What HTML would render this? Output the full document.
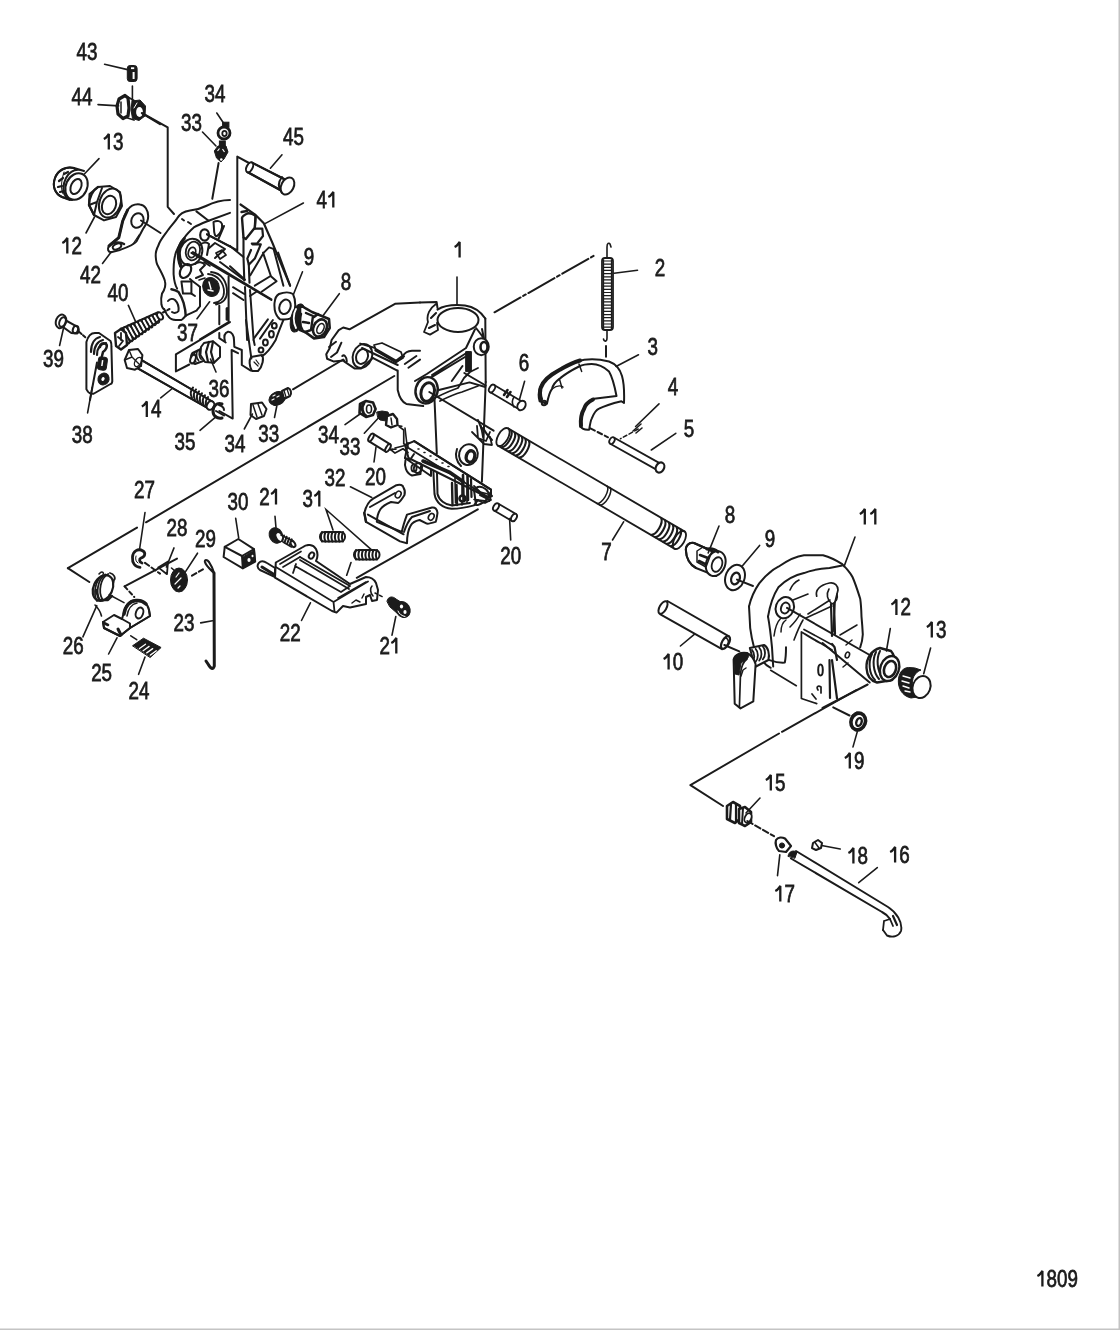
<!DOCTYPE html>
<html><head><meta charset="utf-8"><style>
html,body{margin:0;padding:0;background:#fff;}
body{width:1120px;height:1330px;overflow:hidden;position:relative;}
svg{position:absolute;left:0;top:0;}
.s{fill:none;stroke:#1b1b1b;stroke-width:2;stroke-linecap:round;stroke-linejoin:round}
.t{fill:none;stroke:#1b1b1b;stroke-width:1.6;stroke-linecap:round}
.s .w, .w{fill:#fff}
.one path{fill:none;stroke:#1b1b1b;stroke-width:2.3;stroke-linejoin:bevel}
.k{fill:#1b1b1b;stroke:#1b1b1b;stroke-width:1}
.lb text{font-family:"Liberation Sans",sans-serif;font-weight:normal;font-size:23.5px;fill:#1b1b1b;stroke:#1b1b1b;stroke-width:0.75;text-anchor:middle}
</style></head><body>
<svg width="1120" height="1330" viewBox="0 0 1120 1330">
<rect x="1118.5" y="0" width="1.5" height="1330" fill="#c4c4c4"/>
<rect x="0" y="1328.5" width="1120" height="1.5" fill="#c4c4c4"/>
<defs><filter id="gs" x="0" y="0" width="1120" height="1330" filterUnits="userSpaceOnUse"><feColorMatrix type="saturate" values="0"/></filter></defs>
<g class="lb" filter="url(#gs)">
<text transform="translate(87,59.6) scale(0.8,1)">43</text>
<text transform="translate(82,104.6) scale(0.8,1)">44</text>
<text transform="translate(215,101.6) scale(0.8,1)">34</text>
<text transform="translate(191.5,130.6) scale(0.8,1)">33</text>
<text transform="translate(293.5,144.6) scale(0.8,1)">45</text>
<text transform="translate(113,149.6) scale(0.8,1)"><tspan style="fill:none;stroke:none">1</tspan>3</text>
<text transform="translate(327,207.6) scale(0.8,1)">4<tspan style="fill:none;stroke:none">1</tspan></text>
<text transform="translate(71.5,253.6) scale(0.8,1)"><tspan style="fill:none;stroke:none">1</tspan>2</text>
<text transform="translate(90.5,282.6) scale(0.8,1)">42</text>
<text transform="translate(309,264.6) scale(0.8,1)">9</text>
<text transform="translate(346,289.6) scale(0.8,1)">8</text>
<text transform="translate(118,300.6) scale(0.8,1)">40</text>
<text transform="translate(458.5,257.6) scale(0.8,1)"><tspan style="fill:none;stroke:none">1</tspan></text>
<text transform="translate(660,275.6) scale(0.8,1)">2</text>
<text transform="translate(53.5,366.6) scale(0.8,1)">39</text>
<text transform="translate(187.5,340.6) scale(0.8,1)">37</text>
<text transform="translate(219,397.1) scale(0.8,1)">36</text>
<text transform="translate(652.7,354.6) scale(0.8,1)">3</text>
<text transform="translate(524,370.6) scale(0.8,1)">6</text>
<text transform="translate(673,394.6) scale(0.8,1)">4</text>
<text transform="translate(82.3,442.6) scale(0.8,1)">38</text>
<text transform="translate(151,417.1) scale(0.8,1)"><tspan style="fill:none;stroke:none">1</tspan>4</text>
<text transform="translate(185,449.6) scale(0.8,1)">35</text>
<text transform="translate(235,452.1) scale(0.8,1)">34</text>
<text transform="translate(268.7,441.6) scale(0.8,1)">33</text>
<text transform="translate(689,436.6) scale(0.8,1)">5</text>
<text transform="translate(328.4,442.6) scale(0.8,1)">34</text>
<text transform="translate(350,454.6) scale(0.8,1)">33</text>
<text transform="translate(375.5,484.6) scale(0.8,1)">20</text>
<text transform="translate(144.5,498.1) scale(0.8,1)">27</text>
<text transform="translate(335,485.6) scale(0.8,1)">32</text>
<text transform="translate(869,524.6) scale(0.8,1)"><tspan style="fill:none;stroke:none">1</tspan><tspan style="fill:none;stroke:none">1</tspan></text>
<text transform="translate(730,522.6) scale(0.8,1)">8</text>
<text transform="translate(770,546.6) scale(0.8,1)">9</text>
<text transform="translate(238,510.1) scale(0.8,1)">30</text>
<text transform="translate(269.7,504.6) scale(0.8,1)">2<tspan style="fill:none;stroke:none">1</tspan></text>
<text transform="translate(313,506.6) scale(0.8,1)">3<tspan style="fill:none;stroke:none">1</tspan></text>
<text transform="translate(177,535.6) scale(0.8,1)">28</text>
<text transform="translate(205.5,546.6) scale(0.8,1)">29</text>
<text transform="translate(606.5,560.1) scale(0.8,1)">7</text>
<text transform="translate(510.7,564.2) scale(0.8,1)">20</text>
<text transform="translate(900.6,615.1) scale(0.8,1)"><tspan style="fill:none;stroke:none">1</tspan>2</text>
<text transform="translate(936,637.6) scale(0.8,1)"><tspan style="fill:none;stroke:none">1</tspan>3</text>
<text transform="translate(184,630.6) scale(0.8,1)">23</text>
<text transform="translate(290.3,641.1) scale(0.8,1)">22</text>
<text transform="translate(73.2,653.6) scale(0.8,1)">26</text>
<text transform="translate(390,653.6) scale(0.8,1)">2<tspan style="fill:none;stroke:none">1</tspan></text>
<text transform="translate(672.8,669.6) scale(0.8,1)"><tspan style="fill:none;stroke:none">1</tspan>0</text>
<text transform="translate(101.6,680.6) scale(0.8,1)">25</text>
<text transform="translate(139,698.6) scale(0.8,1)">24</text>
<text transform="translate(854,768.6) scale(0.8,1)"><tspan style="fill:none;stroke:none">1</tspan>9</text>
<text transform="translate(775,790.6) scale(0.8,1)"><tspan style="fill:none;stroke:none">1</tspan>5</text>
<text transform="translate(899.3,862.6) scale(0.8,1)"><tspan style="fill:none;stroke:none">1</tspan>6</text>
<text transform="translate(857.6,863.6) scale(0.8,1)"><tspan style="fill:none;stroke:none">1</tspan>8</text>
<text transform="translate(784.5,901.6) scale(0.8,1)"><tspan style="fill:none;stroke:none">1</tspan>7</text>
<text transform="translate(1057,1286.6) scale(0.8,1)"><tspan style="fill:none;stroke:none">1</tspan>809</text>
</g><g class="one"><path d="M108.8,149.6 L108.8,134.0 L107.6,135.6 C106.6,137.2 105.2,138.4 103.8,139.0 M333.3,207.6 L333.3,192.0 L332.1,193.6 C331.1,195.2 329.7,196.4 328.3,197.0 M67.3,253.6 L67.3,238.0 L66.1,239.6 C65.1,241.2 63.7,242.4 62.3,243.0 M459.6,257.6 L459.6,242.0 L458.4,243.6 C457.4,245.2 456.0,246.4 454.6,247.0 M146.8,417.1 L146.8,401.5 L145.6,403.1 C144.6,404.7 143.2,405.9 141.8,406.5 M864.8,524.6 L864.8,509.0 L863.6,510.6 C862.6,512.2 861.2,513.4 859.8,514.0 M875.3,524.6 L875.3,509.0 L874.1,510.6 C873.1,512.2 871.7,513.4 870.3,514.0 M276.0,504.6 L276.0,489.0 L274.8,490.6 C273.8,492.2 272.4,493.4 271.0,494.0 M319.3,506.6 L319.3,491.0 L318.1,492.6 C317.1,494.2 315.7,495.4 314.3,496.0 M896.4,615.1 L896.4,599.5 L895.2,601.1 C894.2,602.7 892.8,603.9 891.4,604.5 M931.8,637.6 L931.8,622.0 L930.6,623.6 C929.6,625.2 928.2,626.4 926.8,627.0 M396.3,653.6 L396.3,638.0 L395.1,639.6 C394.1,641.2 392.7,642.4 391.3,643.0 M668.6,669.6 L668.6,654.0 L667.4,655.6 C666.4,657.2 665.0,658.4 663.6,659.0 M849.8,768.6 L849.8,753.0 L848.6,754.6 C847.6,756.2 846.2,757.4 844.8,758.0 M770.8,790.6 L770.8,775.0 L769.6,776.6 C768.6,778.2 767.2,779.4 765.8,780.0 M895.1,862.6 L895.1,847.0 L893.9,848.6 C892.9,850.2 891.5,851.4 890.1,852.0 M853.4,863.6 L853.4,848.0 L852.2,849.6 C851.2,851.2 849.8,852.4 848.4,853.0 M780.3,901.6 L780.3,886.0 L779.1,887.6 C778.1,889.2 776.7,890.4 775.3,891.0 M1042.4,1286.6 L1042.4,1271.0 L1041.2,1272.6 C1040.2,1274.2 1038.8,1275.4 1037.4,1276.0"/>

</g>
<!-- 43 -->
<g>
<rect x="127.3" y="65.5" width="9.8" height="16" rx="2.8" class="k"/>
<rect x="131" y="67.3" width="3.2" height="1.8" fill="#fff"/>
<rect x="132.6" y="72" width="2" height="7" fill="#fff"/>

</g>
<!-- 44 -->
<g>
<path fill="#fff" d="M124,96 L134,100.5 L134,120 L125,117 Z"/>
<path class="s" d="M126,96 L134,100.5 M126,117.5 L134,120" style="stroke-width:1.8"/>
<path class="s" d="M125,95.5 L119,99 L117,106 L118,114 L123,118.5 L128,116 L129,108 L128,98 Z" style="stroke-width:3.2;fill:#fff"/>
<path class="s" d="M121,102 L121,113" style="stroke-width:1.5"/>
<path class="k" d="M132,101 L140,100 L145.5,106 L145,116 L139,120.5 L132.5,118.5 L131,110 Z"/>
<ellipse cx="139.5" cy="112" rx="3.4" ry="5" fill="#fff"/>
<path class="s" d="M134,108 L137,103" style="stroke:#fff;stroke-width:1"/>
<path class="s" d="M132.4,86 L132.4,101" style="stroke-width:1.6"/>
<path class="s" d="M142.6,113.7 L160,124.2"/>
</g>
<!-- 34a -->
<g>
<rect x="222.6" y="122.2" width="6.3" height="5" class="k"/>
<ellipse cx="224" cy="133" rx="6" ry="6" class="s" style="stroke-width:2.8;fill:#fff"/>
<ellipse cx="224.5" cy="133.5" rx="2.2" ry="2.6" class="s" style="stroke-width:1.8"/>
</g>
<!-- 33a -->
<g>
<rect x="219.4" y="141" width="5.9" height="5" class="k"/>
<path class="k" d="M218,146 L226,146 L228,152 L224,159 L221,162 L216.5,158 L214.3,151 Z"/>
<path d="M217.5,151 L219.5,148.5 M222.5,149 L224.5,152" stroke="#fff" stroke-width="1.2"/>
<circle cx="221.3" cy="159.5" r="1.3" fill="#fff"/>
</g>
<!-- 13a bearing -->
<g class="s">
<path class="w" d="M74,168 C66,166 58,170 55,178 C52,186 55,194 62,197 L70,200 C62,196 62,186 66,178 C70,171 76,168 84,171 Z"/>
<path d="M74,168 C66,166 58,170 55,178 C52,186 55,194 62,197 L72,200"/>
<ellipse cx="76.5" cy="186.5" rx="10.6" ry="13.8" transform="rotate(25 76.5 186.5)" class="w"/>
<ellipse cx="76" cy="186.5" rx="5" ry="8" transform="rotate(25 76 186.5)"/>
<path d="M59,181 L63,178 M58,187 L62,186 M60,192 L64,191 M64,174 L68,172" style="stroke-width:2.2"/>
<path d="M64,172 C62,178 60,188 63,194" style="stroke-width:1"/>
</g>
<!-- 12a hex nut -->
<g class="s">
<path class="w" d="M98,187 L110,186 L120,192 L122,206 L116,217 L104,220.4 L94,215 L89,205 L89.5,194 Z"/>
<path d="M98,187 C93,190 89,197 89,205 L94,215" style="stroke-width:2.4"/>
<path d="M102,188 L97,202 L94,215 M97,202 L89,205"/>
<ellipse cx="110" cy="203" rx="10.5" ry="15" transform="rotate(20 110 203)"/>
<ellipse cx="109" cy="205" rx="6.8" ry="9.5" transform="rotate(20 109 205)"/>
</g>
<!-- 42 lever -->
<g class="s">
<path class="w" d="M127.6,210 C131,205 136,204 140,204.5 C145,205 148,210 148.2,216 C148.3,222 145,226 143,229 L136.4,241.5 C134,245 128,247 118.8,250.4 L111,252.3 C108,252 107,249 109,246 C111,243 116,240 118.8,237.6 L122.7,221 C124,216 125.5,213 127.6,210 Z"/>
<path d="M127.6,210 L122.7,221 L118.8,237.6 L109,246" style="stroke-width:3"/>
<ellipse cx="137.4" cy="220.5" rx="6" ry="7.5" transform="rotate(20 137.4 220.5)"/>
<path d="M139,235 L133,244" style="stroke-width:1.2"/>
<ellipse cx="117" cy="246.5" rx="4.5" ry="2.6" transform="rotate(-25 117 246.5)" style="stroke-width:2"/>
<path d="M111,244 C115,242 121,242 124,244" style="stroke-width:2.5"/>
</g>
<!-- 45 pin -->
<g class="s">
<path class="w" d="M252,162.6 L286,180 L282,191 L247.4,172 Z"/>
<path d="M252,162.6 L286,180 M247.4,172 L282,191"/>
<ellipse cx="249.6" cy="167.3" rx="3" ry="5.3" transform="rotate(27 249.6 167.3)" class="w"/>
<ellipse cx="287.5" cy="186" rx="6.2" ry="9" transform="rotate(27 287.5 186)" class="w"/>
<path d="M282,177 C278,182 278,188 282,193"/>
</g>

<!-- 41 bracket left -->
<g class="s" style="stroke-width:2">
<!-- outer silhouette -->
<path d="M230,200 C222,200 214,202 206,206 C200,209 196,210 190,210.5 C183,211.5 179,215 177,218.6 C174,223 171,226 168.6,229.3 C164,236 160,240 158.6,245 C156,250 155.5,253 155.7,256 C156,260 156,263 158,266 C161,272 164,277 165,281.4 C166,285 165,289 162,293.6 C161,297 161,301 161.4,304.3 C162,307 163,309 164.3,309.3"/>
<path d="M196.4,211.4 L208.6,220.7 L230,212.9"/>
<path d="M182,219 L184,220.5 M188,222 L191,224" style="stroke-width:2"/>
<path d="M208.6,220.7 C203,223 198,225 194.3,227.1 C190,231 187,234 184.3,237.9 C180,244 176,250 175,255.7 C173.5,262 173.5,268 173.6,274.3 C174,280 175,285 177.1,288.6"/>
<path d="M184.3,238.6 C181,242 179,246 178.6,250 C178,254 178,260 180.7,266.4" style="stroke-width:3"/>
<ellipse cx="191" cy="252" rx="11" ry="13.5" transform="rotate(20 191 252)" style="stroke-width:2"/>
<path d="M182,242 C178,248 178,258 181,266" style="stroke-width:3.2"/>
<ellipse cx="192.9" cy="251" rx="7" ry="9.5" transform="rotate(15 192.9 251)" style="stroke-width:1.8"/>
<ellipse cx="192" cy="252.5" rx="3.6" ry="5.2" transform="rotate(15 192 252.5)" style="stroke-width:1.8"/>
<ellipse cx="204.6" cy="235" rx="4.4" ry="5.6" style="stroke-width:2.2"/>
<path d="M213.5,222 C217,220 221,221 222,224 C223,229 220,234 217,236 C215,237 214,233 214,229 Z"/>
<path d="M224,226 L218,240 M200,245 C203,242 207,242 209,244 L207,255 M208,249 L215,243 L225,249 L215,258"/>
<path d="M192.9,252.1 L271.4,299.3"/>
<path d="M207,234.3 L230,246.4"/>
<path d="M220,262 L244.3,280"/>
<ellipse cx="185.5" cy="271" rx="5" ry="7.5" transform="rotate(30 185.5 271)" style="stroke-width:2.2"/>
<path d="M195,264 C198,261 203,262 205,265 L200,270 L203,275 L196,278" style="stroke-width:2"/>
<path d="M204,262 L210,266 M199,280 L205,278" style="stroke-width:1.6"/>
<path d="M216,253 L222,250 L226,255 L220,259 Z" style="stroke-width:1.8"/>
<!-- right side outline -->
<path d="M240.5,204.5 L254.8,214.3 L263.8,223.3 L272.1,242.1 L282.6,267.7 L290.1,285.7" style="stroke-width:2.2"/>
<path d="M255.6,215.8 C252,213.5 249,213 247.3,213.5 C244,215 242.5,216 242,218 L243.5,237.6 L245.8,239.1 L254.8,227.8 Z" style="stroke-width:2.4"/>
<path d="M241.5,212 L247,211" style="stroke-width:2.4"/>
<path d="M254.8,228.6 L262.3,228.6 L263,236 L257,243.6 L251.8,243.6" style="stroke-width:2.2"/>
<path d="M252.6,244.4 L260.8,244.4 L254.8,258.6 L248.8,264.7 L247.3,258.6 L251,250" style="stroke-width:2.2"/>
<path d="M243.5,237.6 L243.5,257 L244.3,280.5 M255.6,216 L254.8,228.6 M248.8,264.7 L249.5,282.7" style="stroke-width:2.1"/>
<path d="M250.3,275.2 L263.8,252.6 L269,247.4 L273.6,248.9 M263,252.6 L270.6,275.2" style="stroke-width:2"/>
<path d="M254.8,285.7 L270.6,276 L276.6,281.2 L261.6,291.7" style="stroke-width:2"/>
<path d="M273.6,248.9 L283.4,285.7 M278.1,252.6 L290.1,285.7" style="stroke-width:2"/>
<path d="M230,245.9 L243.5,257 M230,266.2 L245,279.7" style="stroke-width:2"/>
<path d="M233,287.2 L244.3,294 M233,293.2 L243.5,300" style="stroke-width:2"/>
<path d="M245,287.1 L247.1,340"/>
<path d="M250,290 L253.6,340"/>
<path d="M250,296 L256,292"/>
<!-- lower left lug and bottom -->
<path d="M164.3,309.3 C166,313 167,315 167.9,315.7 C170,319 173,320 175.7,320 L181.4,320 C183,319 184,318 185.7,315.7 L196.4,310.7 C198,309 199,307.5 200,306.4 L200,287.1"/>
<path d="M171.4,289.3 C175,290 177,291 178.6,292.1 C181,296 182.5,299 183.6,302.9 C185,308 185.7,312 185.7,315.7" style="stroke-width:2.4"/>
<path d="M168,301 C170,298.5 173,298.5 175,300 C178,303 179,307 178.5,311 C177,313 174,313.5 172,312"/>
<path d="M181.4,281.4 L191.4,281.4 L191.4,293.6 L183,293.6 Z"/>
<path d="M191.4,293.6 L195,296 M190,279 C193,282 197,284 200,287"/>
<ellipse cx="211" cy="287" rx="8.2" ry="9.6" transform="rotate(-20 211 287)" class="k"/>
<path d="M209,282 L211,289 M208,290 L213,291" stroke="#fff" stroke-width="1.4"/>
<path d="M208,274 C218,275 224,283 224,292 C224,298 220,302 214,303 M211,272 C222,273 227,282 227,292 C227,299 223,303 216,304.5" style="stroke-width:1.8"/>
<path d="M219.3,305.7 L219.3,324.3" />
<path d="M227.1,308.6 L227.1,319.3" style="stroke-width:3"/>
<path d="M228.6,276.4 L228.6,322.1 L200,339.3"/>
<!-- lower right edge with holes -->
<path d="M292,300 C289,310 285,318 283.6,319.3 C281,326 278,333 275.7,340 C271,348 266,354 262,356"/>
<path d="M267.9,319.3 L254.3,337.9 M272.9,320 L260,338.6"/>
<ellipse cx="274.3" cy="325.7" rx="2.4" ry="2.8" style="stroke-width:2"/>
<ellipse cx="271.4" cy="334.3" rx="2.4" ry="3.2" style="stroke-width:2"/>
<ellipse cx="265.4" cy="342.5" rx="2.4" ry="3" style="stroke-width:2"/>
<ellipse cx="261" cy="350" rx="2.4" ry="2.6" style="stroke-width:2"/>
<path d="M246,320 L251.4,358.6 M253.6,340 L254.7,345"/>
<path d="M251,357 L262,355 C264,358 263,366 258,371 L252,371 C249,366 249,360 251,357 Z"/>
<path d="M254,362 L258,366 M256,360 L259,364" style="stroke-width:1.2"/>
<!-- 36 plate outlines -->
<path d="M175.9,354.3 L230,322.1 M175.9,354.3 L175.9,371.4 L189.3,364.5"/>
<path d="M238,353.2 L231.6,350 L232.7,418.6 L219.3,411"/>
<path d="M219.3,332.9 L219.3,338.2 L225.7,342.5 M225,342 C224,338 224,333 228,331.8 C232,331.5 234,336 234,340 L234.3,346.8 L241.8,350 L241.8,365 L250.4,370.4"/>
<!-- washer 9a -->
<path class="w" d="M279,294 C284,292 290,292 293,294 C296,300 296,310 293,316 C290,320 285,320 280,319.3 C276,316 274,310 274.5,303 C275,298 277,295 279,294 Z"/>
<ellipse cx="285" cy="306.8" rx="5.5" ry="7.4" transform="rotate(20 285 306.8)"/>
</g>

<g class="s" style="stroke-width:2">
<path class="w" d="M65.9,320.5 L75.7,325.9 C79,327 80,332 77,333.5 L71.3,333 L61.4,325.9 Z"/>
<ellipse cx="61" cy="321.4" rx="5" ry="7" transform="rotate(20 61 321.4)" class="w"/>
<ellipse cx="62.5" cy="322" rx="3" ry="5" transform="rotate(20 62.5 322)"/>
<ellipse cx="75.5" cy="329.5" rx="2.6" ry="3.8" transform="rotate(20 75.5 329.5)"/>
<path class="w" d="M86.4,342 C88,336 91,333 95,333 L99,333 L110.5,341 C111.5,343 111.5,344 111.4,346.4 L112.3,381.25 C112,383 111.5,384 110.5,384 L93.6,393.75 C91,394 89,393 88.2,392 L86.4,389.3 Z"/>
<path d="M91,352 C91,343 95,338 100,337 M94,354 C94,346 98,341 103,340 M97,355 C97,348 100,344 106,343" style="stroke-width:2.2"/>
<path d="M100,347 C100,344 103,342 106,344 C108,346 106,350 103,352 L102,356" style="stroke-width:2.5"/>
<rect x="98" y="357" width="9" height="13" rx="3" class="k" transform="rotate(8 102 363)"/>
<rect x="100.5" y="359" width="3.5" height="8" fill="#fff" transform="rotate(8 102 363)"/>
<ellipse cx="103.5" cy="379" rx="5.5" ry="6" class="k" transform="rotate(30 103.5 379)"/>
<ellipse cx="103" cy="379" rx="2.5" ry="3" fill="#fff" transform="rotate(30 103 379)"/>
<path d="M90,400 L97,362.5"/>
<path class="w" d="M121.8,328.4 L158.1,312.2 C162,312 163,318 159,320.5 L124.7,346 Z" style="stroke:none"/>
<path d="M121.8,328.4 L158.1,312.2 M124.7,346 L159,320.5" style="stroke-width:2"/>
<ellipse cx="124.8" cy="336.0" rx="2.2" ry="8.6" transform="rotate(-29 124.8 336.0)" style="stroke-width:1.6"/>
<ellipse cx="128.2" cy="334.1" rx="2.2" ry="8.2" transform="rotate(-29 128.2 334.1)" style="stroke-width:1.6"/>
<ellipse cx="131.8" cy="332.1" rx="2.2" ry="7.8" transform="rotate(-29 131.8 332.1)" style="stroke-width:1.6"/>
<ellipse cx="135.2" cy="330.2" rx="2.2" ry="7.4" transform="rotate(-29 135.2 330.2)" style="stroke-width:1.6"/>
<ellipse cx="138.8" cy="328.2" rx="2.2" ry="7.0" transform="rotate(-29 138.8 328.2)" style="stroke-width:1.6"/>
<ellipse cx="142.2" cy="326.3" rx="2.2" ry="6.6" transform="rotate(-29 142.2 326.3)" style="stroke-width:1.6"/>
<ellipse cx="145.8" cy="324.3" rx="2.2" ry="6.2" transform="rotate(-29 145.8 324.3)" style="stroke-width:1.6"/>
<ellipse cx="149.2" cy="322.4" rx="2.2" ry="5.8" transform="rotate(-29 149.2 322.4)" style="stroke-width:1.6"/>
<ellipse cx="152.8" cy="320.4" rx="2.2" ry="5.4" transform="rotate(-29 152.8 320.4)" style="stroke-width:1.6"/>
<ellipse cx="156.2" cy="318.5" rx="2.2" ry="5.0" transform="rotate(-29 156.2 318.5)" style="stroke-width:1.6"/>
<ellipse cx="160" cy="316" rx="2.5" ry="4" transform="rotate(-29 160 316)" class="w"/>
<path class="w" d="M115,333 L121,329 L126,333 L127,345 L121,349.5 L116,346 Z" style="stroke-width:2.4"/>
<path d="M118,337 L123,341 L119,346 M121,333 L121,340" style="stroke-width:1.8"/>
<path class="w" d="M139.5,358.8 L213.1,402 L209.2,409 L136.5,367.7 Z"/>
<path d="M139.5,358.8 L213.1,402 M136.5,367.7 L209.2,409"/>
<path d="M193.0,387.5 C190.0,391.0 190.0,394.0 192.0,398.0" style="stroke-width:2"/>
<path d="M196.0,389.4 C193.0,392.9 193.0,395.9 195.0,399.9" style="stroke-width:2"/>
<path d="M199.0,391.3 C196.0,394.8 196.0,397.8 198.0,401.8" style="stroke-width:2"/>
<path d="M202.0,393.2 C199.0,396.8 199.0,399.8 201.0,403.8" style="stroke-width:2"/>
<path d="M205.0,395.2 C202.0,398.7 202.0,401.7 204.0,405.7" style="stroke-width:2"/>
<path d="M208.0,397.1 C205.0,400.6 205.0,403.6 207.0,407.6" style="stroke-width:2"/>
<ellipse cx="210.5" cy="405.5" rx="3.5" ry="4.5" transform="rotate(30 210.5 405.5)" class="w"/>
<path class="w" d="M129,350 L138,349 L142.4,355 L141,366 L135,369.7 L127,368 L124.7,360 Z"/>
<path d="M129,350 L132,357 L141,366 M132,357 L124.7,360" style="stroke-width:1.4"/>
<ellipse cx="138" cy="362" rx="3" ry="5" transform="rotate(30 138 362)" style="stroke-width:1.4"/>
<path class="w" d="M192.5,353 L203,348 L206,360 L195,364 C191,363 190,356 192.5,353 Z"/>
<path d="M195.0,352.0 C193.0,355.0 194.0,360.0 196.0,362.0" style="stroke-width:1.6"/>
<path d="M197.6,350.6 C195.6,353.6 196.6,358.6 198.6,360.6" style="stroke-width:1.6"/>
<path d="M200.2,349.2 C198.2,352.2 199.2,357.2 201.2,359.2" style="stroke-width:1.6"/>
<path d="M202.8,347.8 C200.8,350.8 201.8,355.8 203.8,357.8" style="stroke-width:1.6"/>
<ellipse cx="193" cy="359" rx="2.5" ry="4.5" transform="rotate(20 193 359)" class="w"/>
<path class="w" d="M204,343 L213,341.2 L220,347 L220,357 L214,362.8 L205,362 L200.4,355 L201,347 Z"/>
<path d="M209,342 L206,352 L208,362 M213,341.5 L211,352 L214,362.8" style="stroke-width:2.2"/>
<path d="M222,404 C217,402 213,406 213,411 C213,416 217,419 222,418" style="stroke-width:3"/>
<path d="M216,411 L224,415.5 M219,405 C222,406 224,408 224,410"/>
<path class="w" d="M251,404 L262,402.5 L266.5,409 L264,416 L256,419 L250.5,415 Z"/>
<path d="M253,405 L257,417 M258,404 L262,415" style="stroke-width:1.5"/>
<ellipse cx="277.2" cy="398.5" rx="8.5" ry="6.5" transform="rotate(-25 277.2 398.5)" class="k"/>
<path class="w" d="M282,391 L288,388 C291,389 292,393 290,396 L284,399 Z"/>
<path d="M284,390.5 L286,397 M287,389 L289,395" style="stroke-width:1.3"/>
<path d="M272,400 L274,399 M277,397 L279,396 M273,396 L275,395" stroke="#fff" stroke-width="1.2"/>
</g>

<!-- bracket 1 center -->
<g class="s" style="stroke-width:2">
<!-- left arm outline -->
<path class="w" d="M395,303.8 L436.6,302 L437.5,309.6 C445,305 455,304.5 465,305.5 C475,307 481,312 485.3,318.6 L485.7,382 L481,387 L469.5,382.4 L437.9,390.3 C432,406 425,406 423.2,406.1 L406.3,403.9 L399.5,397 L397.7,390 L397.7,370.4 L372.7,357.9 L361,368.6 L354.8,368.6 L344.1,361.4 L333.4,361.4 L327.1,358.75 L326.25,354.3 L329.8,348 L331.6,340 L338.75,330.2 L343.2,327.5 L349.5,329.3 L371.8,316.8 Z" style="stroke:none"/>
<path d="M420,302.5 L395,303.8 L371.8,316.8 L349.5,329.3 L343.2,327.5 L338.75,330.2 L331.6,340 L329.8,348 L326.25,354.3 L327.1,358.75 L333.4,361.4 L344.1,360.5"/>
<path d="M336,341.8 L329,347 M341.4,342.7 L337,352.5 L331,357"/>
<path d="M342.3,356 C344,354.5 346.5,356 346.8,361.4"/>
<path d="M344.1,361.4 L354.8,368.6 L361,368.6 L372.7,357.9"/>
<ellipse cx="362.4" cy="356" rx="9.5" ry="12.3" transform="rotate(20 362.4 356)"/>
<ellipse cx="362" cy="356.5" rx="5.8" ry="7.6" transform="rotate(20 362 356.5)"/>
<path d="M360.2,343.6 L404,356.5 M362,348 L397.7,365 M372.7,357.9 L396.8,370.4"/>
<path class="w" d="M374,345 L382,343 L401,352 L403,358 L396,362 L376,350 Z" style="stroke-width:1.8"/>
<path d="M376,350 L396,361.5 L402,357" style="stroke-width:3.4"/>
<path d="M403,356 C405,352 409,351 412,350.8 L420,350.7"/>
<path d="M404.8,364 L416.4,356 M408.4,367.7 L420,359.6"/>
<path d="M397.7,370.4 L397.7,390 C399,396 402,402 406.3,403.9 L423.2,406.1"/>
<!-- top/collar -->
<path d="M420,302.5 L436.6,302 L437.5,307.9"/>
<path d="M437.5,309.6 C445,305 455,304.5 465,305.5 C475,307 481,312 485.3,318.6"/>
<ellipse cx="458" cy="320" rx="20.5" ry="12" style="stroke-width:2"/>
<path d="M436,304 C430,308 426,315 428,322 L424,332 L430,334.6 L438,330 L437,323" style="stroke-width:1.8"/>
<path d="M431,318 L436,313 M429,328 L435,325"/>
<path d="M485.3,318.6 L485.7,382"/>
<path d="M475,329.3 L466,348 L426.8,374 L415,381 M465,357 L429.5,378.4 M468,352 L432,375"/>
<path d="M437,397 C445,393 452,390 458,388 L464,378 L470,372 L478,368 M440,401 C448,397 455,394 462,392 L478,386" style="stroke-width:1.8"/>
<path d="M476,328 C480,333 483,337 484,339 L482,329" />
<ellipse cx="481.25" cy="346.7" rx="7.5" ry="8.5" class="w"/>
<ellipse cx="484" cy="347" rx="3.5" ry="5" style="stroke-width:2.6"/>
<rect x="466" y="351.6" width="5.4" height="20" class="k"/>
<path d="M462.5,366 L451.8,381 M464.3,373 L485.7,385.5"/>
<!-- pivot boss -->
<ellipse cx="426.6" cy="390.3" rx="11" ry="13.3" transform="rotate(15 426.6 390.3)" class="w" style="stroke-width:2.4"/>
<ellipse cx="427.7" cy="392" rx="6.6" ry="9.4" transform="rotate(15 427.7 392)" style="stroke-width:3"/>
<!-- body -->
<path d="M434.5,399.3 L436.8,453.5"/>
<path d="M485.7,382 L481.9,481.7"/>
<path d="M437.9,390.3 L469.5,382.4 L485.3,387"/>
<path d="M492,440 C488,436 485,432 483,428 M478,420 L482,430"/>
<!-- clamp bar -->
<path class="w" d="M414.2,441.1 L491,489.6 L491,494.2 L487,497 L408.5,458 L405,445 Z"/>
<path d="M414.2,441.1 L491,489.6 M408.5,448 L488,497 M408,443 L405,458 L410,460 L414,454"/>
<path d="M418,449 L419,449 M424,452.5 L425,452.5 M430,456 L431,456 M436,459.5 L437,459.5 M442,463 L443,463 M448,466.5 L449,466.5" style="stroke-width:1.6"/>
<path d="M405,458 L431,476 L431,470" />
<ellipse cx="418" cy="468" rx="4" ry="5" transform="rotate(20 418 468)"/>
<!-- round boss -->
<ellipse cx="468.4" cy="454.6" rx="9.3" ry="10.5" transform="rotate(15 468.4 454.6)" class="w"/>
<ellipse cx="470.5" cy="456.5" rx="4.2" ry="5.8" transform="rotate(15 470.5 456.5)" style="stroke-width:3.4"/>
<path d="M457,449 C455,455 456,461 461,466"/>
<!-- lower U -->
<path d="M433.4,471.6 L434.5,494 C436,503 443,508 451.4,508.8 C460,509 468,507 474,505.4 L478,500"/>
<path d="M437,473 L437.5,494 C439,500 445,505 452,505.5 L470,503"/>
<path d="M455,478 L455.5,503 M462,482 L462,505 M467,485 L467,503" style="stroke-width:1.6"/>
<circle cx="462.5" cy="498.5" r="3" class="w" style="stroke-width:2.6"/>
<path d="M474,490 L476,505 C478,506 482,503 486,501"/>
<path d="M476,488 C480,485 486,488 488,492 L492,496 L486,499 M480,495 L490,500" />
</g>
<g class="s" style="stroke-width:2">
<path d="M423,461 L450,472.5 L463,481.5" style="stroke-width:3.6"/>
<path d="M452,483 L452.5,505 M456.5,485 L457,505" style="stroke-width:2.4"/>
<path d="M463,475 L463.5,500 M467.5,476 L468,500" style="stroke-width:2.6"/>
<path d="M471,479 L471.5,497" style="stroke-width:2.2"/>
<path d="M477,426 L478,438 L486,441 L490,432 M481,426 L483,437 M472,432 C476,436 480,440 484,444 L492,445 L490,437" style="stroke-width:1.8"/>
<path d="M405.5,460 C404,466 406,473 412,475.5 L420.5,474 L421,466" style="stroke-width:2"/>
<ellipse cx="414" cy="468" rx="2.6" ry="3.6" style="stroke-width:1.8"/>
<path d="M474,486 L480,492 L488,494 L491,500 L485,503 L476,500" style="stroke-width:1.8"/>
<path d="M474,499.5 L489.3,501.25" style="stroke-width:1.6"/>
</g>
<g class="s" style="stroke-width:1.6">
<path d="M401.8,426.4 L398.6,425.7 M405,428 L407,445 L395,448" />
<path d="M390,450 C392,448 394,450 396,449"/>
</g>

<g class="s" style="stroke-width:2">
<ellipse cx="297.5" cy="318" rx="6.5" ry="14.5" transform="rotate(15 297.5 318)" class="k"/>
<path d="M296,309 C293,314 293,322 296,328" stroke="#fff" stroke-width="1.8" fill="none"/>
<path class="w" d="M300,305 L312,312 L329,319 L329.7,328 L324,337 L314,338.4 L305,332 L300,330 Z" style="stroke-width:2.6"/>
<path d="M301,314 C299,320 300,326 303,331 M306,313 L313,316 L311,330 L305,332" style="stroke-width:2.4"/>
<ellipse cx="320" cy="328" rx="6.5" ry="9" transform="rotate(25 320 328)" style="stroke-width:2.6"/>
<ellipse cx="320.5" cy="328.5" rx="3.2" ry="5.3" transform="rotate(25 320.5 328.5)" style="stroke-width:1.6"/>
<path d="M314,317 L318,314 M303,322 L309,323" style="stroke-width:2.5"/>
<path class="w" d="M360,404 L366,401 L373,402.5 L375.6,409 L373,415 L366,417 L359.5,413 Z" style="stroke-width:2.6"/>
<path d="M364,403 C361,407 362,413 366,416" style="stroke-width:3"/>
<ellipse cx="369" cy="409" rx="2.5" ry="4" style="stroke-width:1.6"/>
<path class="k" d="M377,412 L382,411 L388,412 L390,417 L386,421 L380,420 L378,418 Z"/>
<path class="w" d="M387,416 L393,414 L397,419 L397.5,425 L391,427.5 L386,425 Z" style="stroke-width:2.4"/>
<path d="M391,418 L392,425" style="stroke-width:1.5"/>
<path d="M399.4,426.9 L403.75,430 L403.75,443.75 L408,446.25" style="stroke-width:1.7"/>
<path d="M391.25,450 L395,453.1 L403,448.75 L408,452.5" style="stroke-width:1.7"/>
<path class="w" style="stroke:none" d="M368.7,441.2 L385.7,451.7 L390.3,444.3 L373.3,433.8 Z"/><path style="stroke-width:2" d="M368.7,441.2 L385.7,451.7 M390.3,444.3 L373.3,433.8"/><ellipse class="w" style="stroke-width:2" cx="371.0" cy="437.5" rx="1.9" ry="4.3" transform="rotate(31.7 371.0 437.5)"/><ellipse class="w" style="stroke-width:2" cx="388.0" cy="448.0" rx="1.9" ry="4.3" transform="rotate(31.7 388.0 448.0)"/>
<path d="M607,259 L607,247 C607,243 609,242.5 610,244 L611,247" style="stroke-width:1.6"/>
<rect x="602" y="258" width="11" height="72" rx="3" class="w" style="stroke-width:1.8"/>
<path d="M604,261.0 L611,261.0" style="stroke-width:1.2"/>
<path d="M604,264.1 L611,264.1" style="stroke-width:1.2"/>
<path d="M604,267.3 L611,267.3" style="stroke-width:1.2"/>
<path d="M604,270.4 L611,270.4" style="stroke-width:1.2"/>
<path d="M604,273.6 L611,273.6" style="stroke-width:1.2"/>
<path d="M604,276.8 L611,276.8" style="stroke-width:1.2"/>
<path d="M604,279.9 L611,279.9" style="stroke-width:1.2"/>
<path d="M604,283.1 L611,283.1" style="stroke-width:1.2"/>
<path d="M604,286.2 L611,286.2" style="stroke-width:1.2"/>
<path d="M604,289.4 L611,289.4" style="stroke-width:1.2"/>
<path d="M604,292.5 L611,292.5" style="stroke-width:1.2"/>
<path d="M604,295.6 L611,295.6" style="stroke-width:1.2"/>
<path d="M604,298.8 L611,298.8" style="stroke-width:1.2"/>
<path d="M604,301.9 L611,301.9" style="stroke-width:1.2"/>
<path d="M604,305.1 L611,305.1" style="stroke-width:1.2"/>
<path d="M604,308.2 L611,308.2" style="stroke-width:1.2"/>
<path d="M604,311.4 L611,311.4" style="stroke-width:1.2"/>
<path d="M604,314.6 L611,314.6" style="stroke-width:1.2"/>
<path d="M604,317.7 L611,317.7" style="stroke-width:1.2"/>
<path d="M604,320.9 L611,320.9" style="stroke-width:1.2"/>
<path d="M604,324.0 L611,324.0" style="stroke-width:1.2"/>
<path d="M604,327.1 L611,327.1" style="stroke-width:1.2"/>
<path d="M603.5,260 L603.5,329 M611.5,260 L611.5,329" style="stroke-width:1.3"/>
<path d="M607,330 L607,338 C607,342 604,342 603.5,339" style="stroke-width:1.6"/>
<path class="w" d="M539.6,401.2 C537,392 540,382 552,374 C562,368 570,363 576.8,361.5 C585,359 595,358 609,361.5 C616,364 620,369 622,376 C624,383 624.5,390 624,403 L621.4,401.2 C614,403 606,405 599,408.7 C596,410 594,413 591.7,418.6 C591,420 590,424 589.2,429.7 C586,430 582,429 580.5,426 C580,420 581,414 584,408.7 C585,404 588,401 594,398.7 L616.5,396 C615,388 613,378 609,371.4 C603,366 597,364 591.7,364 C586,364 582,365 579,366.5 C572,370 565,374 559.4,378.9 C555,382 553,385 552,388.8 C549,393 548,398 547,403.7 Z"/>
<path d="M541,399 C538,390 541,382 552,374.5 C562,368 570,363.5 580,360.5" style="stroke-width:4"/>
<path d="M593,399.5 C588,402 585,405 584,409 C581,414 580.5,420 581,426" style="stroke-width:4"/>
<path d="M559.4,378.9 L562,388 M579,364 L581.7,371.4" style="stroke-width:1.5"/>
<path d="M552,389 C556,386 560,385 563,387" style="stroke-width:1.4"/>
<circle cx="544" cy="403" r="2.2"/>
<path class="w" style="stroke:none" d="M489.9,392.1 L516.9,408.1 L521.1,400.9 L494.1,384.9 Z"/><path style="stroke-width:1.8" d="M489.9,392.1 L516.9,408.1 M521.1,400.9 L494.1,384.9"/><ellipse class="w" style="stroke-width:1.8" cx="492" cy="388.5" rx="2.6" ry="4.2" transform="rotate(30.7 492 388.5)"/><ellipse class="w" style="stroke-width:2" cx="521.5" cy="405.5" rx="3.8" ry="5" transform="rotate(30.7 521.5 405.5)"/><path d="M514,397 C512,400 512,404 514,407" style="stroke-width:1.6"/>
<path d="M504,395 L507.5,390 M507,397 L510.5,392" style="stroke-width:2.6"/>
<path d="M633,431 L641,424 M636,433 L642,428" style="stroke-width:1.6"/>
<path d="M638.2,429 L620.4,438.75" stroke-dasharray="4 2.5" style="stroke-width:1.5"/>
<path class="w" style="stroke:none" d="M610.2,443.7 L658.2,470.6 L661.8,464.4 L613.8,437.5 Z"/><path style="stroke-width:1.8" d="M610.2,443.7 L658.2,470.6 M661.8,464.4 L613.8,437.5"/><ellipse class="w" style="stroke-width:1.8" cx="612.0" cy="440.6" rx="2.4" ry="3.6" transform="rotate(29.3 612.0 440.6)"/><ellipse class="w" style="stroke-width:1.8" cx="660.0" cy="467.5" rx="2.4" ry="3.6" transform="rotate(29.3 660.0 467.5)"/>
<ellipse cx="660" cy="467.5" rx="4" ry="5.3" transform="rotate(29 660 467.5)" class="w" style="stroke-width:2.2"/>
<path class="w" style="stroke:none" d="M498.0,445.6 L674.4,548.6 L684.4,531.4 L508.0,428.4 Z"/><path style="stroke-width:1.8" d="M498.0,445.6 L674.4,548.6 M684.4,531.4 L508.0,428.4"/><ellipse class="w" style="stroke-width:1.8" cx="503.0" cy="437.0" rx="5.0" ry="10.0" transform="rotate(30.3 503.0 437.0)"/><ellipse class="w" style="stroke-width:1.8" cx="679.4" cy="540.0" rx="5.0" ry="10.0" transform="rotate(30.3 679.4 540.0)"/>
<path style="stroke-width:2.1" d="M501.7,447.3 A4.5,10 30.3 0 0 511.3,430.9"/>
<path style="stroke-width:2.1" d="M505.3,449.3 A4.5,10 30.3 0 0 514.8,432.9"/>
<path style="stroke-width:2.1" d="M508.8,451.4 A4.5,10 30.3 0 0 518.4,435.0"/>
<path style="stroke-width:2.1" d="M512.3,453.4 A4.5,10 30.3 0 0 521.9,437.0"/>
<path style="stroke-width:2.1" d="M515.8,455.5 A4.5,10 30.3 0 0 525.4,439.1"/>
<path style="stroke-width:2.1" d="M519.4,457.6 A4.5,10 30.3 0 0 529.0,441.2"/>
<path style="stroke-width:2.1" d="M651.7,534.8 A4.5,10 30.3 0 0 661.3,518.4"/>
<path style="stroke-width:2.1" d="M655.6,537.1 A4.5,10 30.3 0 0 665.1,520.7"/>
<path style="stroke-width:2.1" d="M659.4,539.3 A4.5,10 30.3 0 0 669.0,522.9"/>
<path style="stroke-width:2.1" d="M663.3,541.6 A4.5,10 30.3 0 0 672.9,525.2"/>
<path style="stroke-width:2.1" d="M667.2,543.9 A4.5,10 30.3 0 0 676.8,527.5"/>
<path style="stroke-width:2.1" d="M671.1,546.1 A4.5,10 30.3 0 0 680.7,529.7"/>
<path style="stroke-width:1.5" d="M596.7,503.3 A4,10 30.3 0 0 606.8,486.0 M599.7,504.8 A4,10 30.3 0 0 609.8,487.5"/>
<path class="w" style="stroke:none" d="M494.0,510.5 L512.0,521.0 L516.0,514.0 L498.0,503.5 Z"/><path style="stroke-width:1.9" d="M494.0,510.5 L512.0,521.0 M516.0,514.0 L498.0,503.5"/><ellipse class="w" style="stroke-width:1.9" cx="496.0" cy="507.0" rx="2.5" ry="4.0" transform="rotate(30.3 496.0 507.0)"/><ellipse class="w" style="stroke-width:1.9" cx="514.0" cy="517.5" rx="2.5" ry="4.0" transform="rotate(30.3 514.0 517.5)"/>
</g>

<g class="s" style="stroke-width:2">
<path d="M143,551 C138,548 133,551 132.5,557 C132,563 135,567 140,567.4 M143,551 C146,553 145,557 141,558 C139,559 139,562 142,563" style="stroke-width:2.8"/>
<path d="M136,556 C135,559 136,562 138,563" stroke-width="1" />
<path d="M158.2,567.4 L168,561.5 L167,574.2 Z" style="stroke-width:1.8"/>
<ellipse cx="179" cy="580" rx="8.5" ry="12" class="k"/>
<path d="M176,577 L179,573 M175,584 L181,578 M178,588 L180,586" stroke="#fff" stroke-width="1.2"/>
<path d="M171.5,568 L175,571" style="stroke-width:1.6"/>
<path d="M214,573 L214.3,666 C213,670 211,669 208,664 L206,661" style="stroke-width:3"/>
<path d="M214,573 C211,570 206,566 205,562 C204.5,559.5 207,559.5 209,562 C211,565 213,569 214,573" style="stroke-width:2.2"/>
<ellipse cx="103" cy="588" rx="9.5" ry="13.5" transform="rotate(25 103 588)" class="w" style="stroke-width:2.2"/>
<path d="M97.0,601.0 C93.0,594.0 95.0,580.0 103.0,575.0" style="stroke-width:1.8"/>
<path d="M99.6,600.0 C95.6,593.0 97.6,579.0 105.6,574.5" style="stroke-width:1.8"/>
<path d="M102.2,599.0 C98.2,592.0 100.2,578.0 108.2,574.0" style="stroke-width:1.8"/>
<path d="M96,590 L99,600 L108,600 L112,596" style="stroke-width:2.4"/>
<path d="M110,573 C114,574 116,578 114,580 L113,584" style="stroke-width:1.8"/>
<path d="M99,574 C101,571.5 103,571.5 103.5,573.5" style="stroke-width:1.6"/>
<path d="M95,605 C97,607 100,610 101.5,616" style="stroke-width:1.6"/>
<path d="M109.3,594.7 L124,602.6" style="stroke-width:1.6"/>
<path class="w" d="M103,622 L114,615 L122,619 L124,612 C126,604 131,600 137,600 C143,600 148,604 149,610 L150,616 L130,628 L120,636 L104,628 Z"/>
<path d="M124,614 C125,606 130,601 136,600.5 C141,600 144,602 146,604" style="stroke-width:3.4"/>
<path d="M127,616 C128,609 132,604 137,603" style="stroke-width:1.6"/>
<ellipse cx="139.5" cy="613" rx="3.6" ry="5.6" transform="rotate(20 139.5 613)" style="stroke-width:2"/>
<path d="M149,610 L150,616 L130,628 M122,619 L130,623.5 L130,628" style="stroke-width:1.9"/>
<path d="M103,622 L104,628 L120,636 L130,628" style="stroke-width:2"/>
<path d="M118,629 L121,635" style="stroke-width:3"/>
<path d="M104,623 L108,625" style="stroke-width:2.6"/>
<path class="k" d="M132.8,645.6 L143.5,638.2 L161.1,647.5 L150.4,657.3 Z"/>
<path d="M139.5,648.5 L145.5,644.2" stroke="#fff" stroke-width="1.3"/>
<path d="M143.1,650.7 L149.1,646.4" stroke="#fff" stroke-width="1.3"/>
<path d="M146.7,652.9 L152.7,648.6" stroke="#fff" stroke-width="1.3"/>
<path d="M150.3,655.1 L156.3,650.8" stroke="#fff" stroke-width="1.3"/>
<path d="M130.8,635.8 L136.7,639.7" style="stroke-width:1.6"/>
<path class="w" d="M224.75,546.9 L238.3,539 L254,549.2 L255.2,561.6 L242.8,568.3 L223.6,557 Z"/>
<path d="M224.75,546.9 L242,556 L254,549.2 M242,556 L242.8,568.3"/>
<path class="k" d="M243,557 L254.5,550 L255.2,561.6 L243,568 Z"/>
<ellipse cx="249" cy="560" rx="1.6" ry="2" fill="#fff" stroke="none"/>
<ellipse cx="252.5" cy="556" rx="1" ry="1.3" fill="#fff" stroke="none"/>
<ellipse cx="276" cy="535.5" rx="6.5" ry="8" transform="rotate(-30 276 535.5)" class="k"/>
<ellipse cx="279.5" cy="537" rx="3" ry="5" transform="rotate(-30 279.5 537)" class="w" style="stroke-width:1.2"/>
<path d="M281,535 L293,541 M283,542 L291.5,547" style="stroke-width:1.6"/>
<path d="M284.0,535.5 L282.0,541.0" style="stroke-width:2"/>
<path d="M286.6,536.8 L284.6,542.3" style="stroke-width:2"/>
<path d="M289.2,538.1 L287.2,543.6" style="stroke-width:2"/>
<path d="M291.8,539.4 L289.8,544.9" style="stroke-width:2"/>
<ellipse cx="293" cy="544" rx="2" ry="3.3" transform="rotate(-30 293 544)" class="w"/>
<rect x="320.0" y="532.0" width="25.0" height="9.5" rx="4.5" class="w" style="stroke-width:2"/>
<path d="M322.0,532.0 C320.5,535.5 320.5,538.5 322.0,541.5" style="stroke-width:2"/>
<path d="M325.5,532.0 C324.0,535.5 324.0,538.5 325.5,541.5" style="stroke-width:2"/>
<path d="M329.0,532.0 C327.5,535.5 327.5,538.5 329.0,541.5" style="stroke-width:2"/>
<path d="M332.5,532.0 C331.0,535.5 331.0,538.5 332.5,541.5" style="stroke-width:2"/>
<path d="M336.0,532.0 C334.5,535.5 334.5,538.5 336.0,541.5" style="stroke-width:2"/>
<path d="M339.5,532.0 C338.0,535.5 338.0,538.5 339.5,541.5" style="stroke-width:2"/>
<path d="M343.0,532.0 C341.5,535.5 341.5,538.5 343.0,541.5" style="stroke-width:2"/>
<rect x="354.0" y="550.0" width="25.5" height="9.5" rx="4.5" class="w" style="stroke-width:2"/>
<path d="M356.0,550.0 C354.5,553.5 354.5,556.5 356.0,559.5" style="stroke-width:2"/>
<path d="M359.5,550.0 C358.0,553.5 358.0,556.5 359.5,559.5" style="stroke-width:2"/>
<path d="M363.0,550.0 C361.5,553.5 361.5,556.5 363.0,559.5" style="stroke-width:2"/>
<path d="M366.5,550.0 C365.0,553.5 365.0,556.5 366.5,559.5" style="stroke-width:2"/>
<path d="M370.0,550.0 C368.5,553.5 368.5,556.5 370.0,559.5" style="stroke-width:2"/>
<path d="M373.5,550.0 C372.0,553.5 372.0,556.5 373.5,559.5" style="stroke-width:2"/>
<path d="M377.0,550.0 C375.5,553.5 375.5,556.5 377.0,559.5" style="stroke-width:2"/>
<path d="M351,562.5 L346.7,575.3" style="stroke-width:1.6"/>
<path class="w" d="M364.3,512.9 C366,506 369,501 373.2,498.6 L396.4,485.2 C400,484 403,485 403.6,487.9 C405,490 405,493 404.5,495 C402,499 400,502 398.2,503 L391,502 C386,504 382,507 380.4,509.3 C378,513 377,517 376.8,521.8 L401.8,532 C403,526 405,520 407,514.6 L432,507.5 C435,507 437,509 437.5,512.9 C437,516 436.5,520 435.7,521.8 C432,523 429,524 426.8,523.6 L419.6,520 C415,521 412,523 410.7,525.4 C408,530 407,534 407,543.2 L400,541.4 L366,521.8 Z"/>
<path d="M367.9,514.6 L403.6,534.3 M370,507 L395,493 M404,532 C406,526 408,521 412,517 L430,511"/>
<ellipse cx="398.2" cy="494.5" rx="2.6" ry="3.6" transform="rotate(30 398.2 494.5)" style="stroke-width:1.6"/>
<ellipse cx="431.25" cy="516.8" rx="2.6" ry="3.6" transform="rotate(30 431.25 516.8)" style="stroke-width:1.6"/>
<path d="M364.3,512.9 L366,521.8" style="stroke-width:2.4"/>
<path class="w" d="M275.8,562.5 L303,547 C307,544 313,544 316,549 C318,553 318,557 316,561 L350,584 L366,577 C370,577 374,579 376,583 L378,590 L377,600 L372,601 L370,595 L366,597 L366,604 L357,606 L350,607.5 L343,606 L336.5,612.6 L332,611 L275,577.7 Z"/>
<ellipse cx="311.5" cy="555.5" rx="2.4" ry="3.4" transform="rotate(30 311.5 555.5)" style="stroke-width:2"/>
<path d="M275.8,567 L333.5,602 L368,581.5 M333.5,602 L334.5,611.5" style="stroke-width:1.8"/>
<path d="M280,564 L301,551.5 M283,567 L300,557" style="stroke-width:1.7"/>
<path d="M300,557 L350,586 L341,592 L295,566 M296,564 L293,573 M300,560 L349,589" style="stroke-width:1.8"/>
<path d="M338,598 L366,582 M372,586 C370,588 370,593 373,596" style="stroke-width:1.6"/>
<path d="M352,603 L356,600 L360,602 M362,598 L364,594" style="stroke-width:1.5"/>
<path class="w" d="M258.9,562.9 C261,560.5 264,561 267,563 L275,568 L275,577 L260,570 C257,568 257,565 258.9,562.9 Z"/>
<path d="M262,567 L274,574.5" style="stroke-width:3"/>
<path d="M375,593 L383,597" stroke-dasharray="3 2" style="stroke-width:1.5"/>
<path class="k" d="M387,601 C388,596 393,596 396,599 L404,604 L398,614 L390,607 Z"/>
<ellipse cx="403" cy="609.5" rx="6.8" ry="8.3" transform="rotate(-30 403 609.5)" class="k"/>
<ellipse cx="401.5" cy="606.5" rx="1.6" ry="1.9" fill="#fff" stroke="none"/>
<ellipse cx="405" cy="612" rx="1.6" ry="1.9" fill="#fff" stroke="none"/>
<path d="M398,611 C399,614 402,616 405,616.5" stroke="#fff" stroke-width="1"/>
</g>

<g class="s" style="stroke-width:2">
<path class="w" d="M686,551 C685,546 689,542 694,543 L712,551 C720,555 722,570 716,576 L696,568 C690,565 686,558 686,551 Z"/>
<path d="M686,551 C685,546 689,542 694,543 L712,551 M696,568 C690,565 686,558 686,551"/>
<ellipse cx="715.7" cy="563.6" rx="9.5" ry="12.8" transform="rotate(20 715.7 563.6)" class="w" style="stroke-width:2"/>
<ellipse cx="717" cy="564.5" rx="5" ry="7.5" transform="rotate(20 717 564.5)" style="stroke-width:1.8"/>
<path d="M697,551 L703,547 L712,551 L706,567 L697,562 Z" style="stroke-width:1.5"/>
<path d="M700,555 L708,558 M699,561 L705,564" style="stroke-width:2.6"/>
<path d="M707,549 C712,548 716,550 718,552" style="stroke-width:3"/>
<ellipse cx="735" cy="577.5" rx="9.5" ry="13" transform="rotate(20 735 577.5)" class="w" style="stroke-width:2"/>
<ellipse cx="735.5" cy="578.5" rx="4.2" ry="6" transform="rotate(20 735.5 578.5)" style="stroke-width:2.2"/>
<path class="w" d="M667.4,601 L729,636.4 L722,649.2 L660.4,614.4 Z" style="stroke:none"/>
<path d="M667.4,601 L729,636.4 M660.4,614.4 L722,649.2"/>
<ellipse cx="663" cy="607.5" rx="3.4" ry="7" transform="rotate(30 663 607.5)" class="w"/>
<ellipse cx="725.5" cy="642.5" rx="3.4" ry="7" transform="rotate(30 725.5 642.5)" class="w" style="stroke-width:2.2"/>
<path d="M726,638 C729,639 729,643 727,645" style="stroke-width:1.6"/>
<path class="w" d="M749,606.4 C752,594 756,588 759.2,583.4 C765,576 772,570 778.4,566.7 C788,560 797,556 804,555.2 L823,555.2 C830,557 836,560 842.3,564.2 C846,568 850,572 852.5,577 C856,585 858,592 860.2,598.7 L861.5,616.6 L862.8,634.5 C862,640 861,644 860.2,647.3 L870,656 L870,682 L816.7,703.6 L801.4,698.5 L801.4,680 L770.7,667.8 C766,665 763,662 761.7,660.1 C758,654 756,650 754,647.3 C752,640 751,634 750.2,628.1 Z" style="stroke:none"/>
<path d="M749,606.4 C752,594 756,588 759.2,583.4 C765,576 772,570 778.4,566.7 C788,560 797,556 804,555.2 L823,555.2 C830,557 836,560 842.3,564.2 C846,568 850,572 852.5,577 C856,585 858,592 860.2,598.7 C861,604 861.3,610 861.5,616.6 C862,622 862.5,628 862.8,634.5 C862.5,640 861.5,644 860.2,647.3"/>
<path d="M749,606.4 C749.5,614 749.8,621 750.2,628.1 C751,634 752,640 754,647.3 C756,651 758,655 761.7,660.1 C764,663 767,666 770.7,667.8"/>
<path d="M768,616.6 C770,605 774,594 778.4,587.2 C786,580 795,575 804,573.1 C812,570 820,568.5 829.5,568 L842.3,565.5"/>
<path d="M768,616.6 C770,627 771,637 772,647.3 L773.2,666.5"/>
<path d="M769.4,660.1 C775,662 780,663 784.8,662.6 C786,657 786,652 786,647.3"/>
<path d="M774,636 C775,628 777,622 781,618 M781,632 C781,626 783,622 786,620" style="stroke-width:1.5"/>
<path d="M790,627 C795,622 798,618 800,614 M794,640 C797,632 800,625 803,620" style="stroke-width:1.6"/>
<ellipse cx="784.8" cy="607.7" rx="9" ry="10.8" transform="rotate(20 784.8 607.7)" class="w" style="stroke-width:2"/>
<ellipse cx="785.3" cy="608" rx="4.2" ry="5.5" transform="rotate(20 785.3 608)" style="stroke-width:2"/>
<path d="M793,600 L808,594 M790,590 C792,585 795,582 799,580" style="stroke-width:1.6"/>
<path d="M816.7,596.2 C815,590 820,585 829.5,583 C835,582 838,586 838,590 L835,602 L833,632" style="stroke-width:1.7"/>
<path d="M829,589 C826,594 827,600 832,604 C836,602 838,598 837,594" style="stroke-width:1.6"/>
<path d="M808,614 L830,600 M806,618 L832,606" style="stroke-width:1.6"/>
<path d="M831,604 L832,636 M834,604 L835,634" style="stroke-width:2.2"/>
<path d="M840,635 L857,625" style="stroke-width:1.5"/>
<path d="M801.4,632 L801.4,698.5 L816.7,703.6 M801.4,632 C808,636 814,640 820,643 M804,629.4 L832,644.7 M805,634 L832,650" style="stroke-width:1.7"/>
<path d="M832,660 L837,698.5 M829.5,660 L830,698 M832,644 L834.6,647.3 L837,660" style="stroke-width:2.2"/>
<ellipse cx="820.5" cy="670" rx="2.3" ry="5.5" style="stroke-width:2"/>
<ellipse cx="847.4" cy="655" rx="2" ry="3" transform="rotate(20 847.4 655)" style="stroke-width:1.6"/>
<path d="M846,645 L852,640 M843,667 L848,663" style="stroke-width:1.5"/>
<path d="M818,690 C816,687 818,685 821,687 L821,693 M812,694 L816,699" style="stroke-width:1.7"/>
<path d="M770.7,670.3 L796.3,685.7" style="stroke-width:1.7"/>
<path class="w" d="M749.8,648 L764,645 C768,647 770,654 768.4,660 L755,667 Z"/>
<path d="M752.0,650.0 C755.0,653.0 755.0,660.0 752.0,663.0" style="stroke-width:1.8"/>
<path d="M755.6,648.8 C758.6,651.8 758.6,658.8 755.6,661.8" style="stroke-width:1.8"/>
<path d="M759.2,647.6 C762.2,650.6 762.2,657.6 759.2,660.6" style="stroke-width:1.8"/>
<path d="M762.8,646.4 C765.8,649.4 765.8,656.4 762.8,659.4" style="stroke-width:1.8"/>
<path class="w" d="M733.6,659.6 C735,654 741,652 747,653 C751,655 754,658 755.6,664.3 L753.3,701.4 L740.5,708.4 L734.7,703.75 Z"/>
<path class="k" d="M733.6,659.6 C735,654 741,652 747,653 C750,654 749,657 747,659 L741,663 L739,675 L735,674 Z"/>
<path d="M747,659 C743,662 741,668 740.5,673.6 L739.4,707.2" style="stroke-width:1.7"/>
<path d="M741,676 L743,670 L746,668" style="stroke-width:1.5"/>
<path class="w" d="M880,648 C872,650 866,658 866.5,668 C867,676 871,681 877,682.5 L892,680 C897,672 897,658 891,651 Z" style="stroke-width:2.4"/>
<path d="M872,654 C868,662 869,674 875,680 M876,652 C872,660 873,672 879,679 M880,651 C876,659 877,671 883,678" style="stroke-width:2"/>
<ellipse cx="889.6" cy="668.5" rx="9.3" ry="12.8" transform="rotate(20 889.6 668.5)" class="w" style="stroke-width:2.4"/>
<ellipse cx="890" cy="669" rx="5.8" ry="8.3" transform="rotate(20 890 669)" style="stroke-width:2.6"/>
<path class="k" d="M908,667.5 C901,668 897.5,676 898.5,684 C899.5,691 904,696.5 911,698 L917,697 C912,692 911,682 914,676 C916,673 918,671 921,670 L915,668 Z"/>
<path d="M903,676 L910,678 M902,681 L909,683 M903,686 L909,688 M905,691 L910,692" stroke="#fff" stroke-width="1.4"/>
<ellipse cx="921.5" cy="687" rx="8.8" ry="11.3" transform="rotate(20 921.5 687)" class="w" style="stroke-width:2"/>
<ellipse cx="858.2" cy="721.5" rx="7.2" ry="8.5" transform="rotate(20 858.2 721.5)" class="w" style="stroke-width:3.6"/>
<ellipse cx="859" cy="722" rx="2.6" ry="4" transform="rotate(20 859 722)" style="stroke-width:2.4"/>
<path d="M853,716 L857,713" style="stroke-width:3"/>
<path class="w" d="M727,806 L733,802 L740,806 L741,818 L735,823 L727,819 Z" style="stroke-width:2.6"/>
<path d="M731,804 L730,820 M736,805 L736,821" style="stroke-width:2.2"/>
<path class="w" d="M739,809 L745,807 L751,812 L751,822 L745,826 L739,823 Z" style="stroke-width:2.6"/>
<path d="M743,808 L742,824" style="stroke-width:2"/>
<ellipse cx="748" cy="818" rx="3.2" ry="5" transform="rotate(25 748 818)" class="w" style="stroke-width:1.8"/>
<path class="w" d="M776,840 C778,837 782,837 785,838.5 L791,846 L786,852 L779,851 C776,848 775,843 776,840 Z" style="stroke-width:2.2"/>
<circle cx="782" cy="845.5" r="2.6" class="k"/>
<path class="w" d="M813,843 L818,840 L822,843 L821,848 L816,850 L812,848 Z" style="stroke-width:2"/>
<path d="M815,842.5 L819,848" style="stroke-width:1.5"/>
<path class="w" d="M793.7,852 L888,908 C895,913 899,920 898,928 C897,933 893,937 887,935.5 L883,930 L884,921 L890,919 C887,915 885,914 882,912 L791,858.5 Z" style="stroke:none"/>
<path d="M796,851 L888,907 C896,912 903,922 901,931 C899,936 893,938 887,935.5 L883,930" style="stroke-width:1.9"/>
<path d="M791,858.5 L882,912 C886,914 888,916 890,919"/>
<path d="M884,921 L890,919 L893,926 M884,921 L883,930" style="stroke-width:1.8"/>
<path d="M788,856 C789,851 793,850 797,852 L795,858 Z" class="k"/>
<path d="M893,916 L897,925" style="stroke-width:2.2"/>
</g>

<g class="t">
<path d="M104.6,64.3 L127.5,69.6"/>
<path d="M98,104.6 L118.6,105.9"/>
<path d="M216.8,113 L224,123.75"/>
<path d="M202.5,132 L216,146"/>
<path d="M282,154.8 L270.4,168.2"/>
<path d="M99,158.6 L84.6,173.75"/>
<path d="M303.4,203 L265,223.6"/>
<path d="M86,233 L94.5,217"/>
<path d="M102.5,263.4 L111.4,251.8"/>
<path d="M302.5,271.8 L293.6,294"/>
<path d="M339.3,293.7 L322.6,316.3"/>
<path d="M128.4,305.4 L135.5,321.4"/>
<path d="M457,277 L457,304.5"/>
<path d="M637.5,270.3 L614,273.2"/>
<path d="M59.6,345.5 L64,326"/>
<path d="M197,318.75 L209.6,301.8"/>
<path d="M216,372 L210.5,359"/>
<path d="M638.5,354.75 L616,366.5"/>
<path d="M524.6,381.3 L519.6,399"/>
<path d="M659,403.9 L635.6,426.5"/>
<path d="M87.6,412.9 L92.2,387.3"/>
<path d="M160.7,397.8 L172.3,388.5"/>
<path d="M200,430.3 L216.4,416.3"/>
<path d="M244.3,429 L252.4,414"/>
<path d="M274.5,417.5 L276.8,406"/>
<path d="M675.8,433.3 L651.3,450"/>
<path d="M345,424.6 L360,414"/>
<path d="M364.3,433.2 L379.3,417"/>
<path d="M374,462 L376,447"/>
<path d="M145,512.5 L139.6,549"/>
<path d="M350.4,486.8 L371.8,497.5"/>
<path d="M855,537 L844,566.6"/>
<path d="M719,526 L708.2,552.9"/>
<path d="M759.6,545.4 L742.5,565.7"/>
<path d="M235.7,518.3 L238.7,538"/>
<path d="M275,516.3 L276,528"/>
<path d="M333,530 L326,509.5 L371.3,549.7"/>
<path d="M174,547.9 L166.4,567"/>
<path d="M197.5,553.2 L185.7,571.4"/>
<path d="M612.5,540 L623.6,521.8"/>
<path d="M510.7,540 L509.6,518.6"/>
<path d="M890.3,628.5 L886.4,651"/>
<path d="M930.6,648 L923.7,673.7"/>
<path d="M200.7,622.9 L212.5,620.7"/>
<path d="M301.5,620.5 L310.4,602.8"/>
<path d="M82.9,636.8 L96.8,605.7"/>
<path d="M392,635.2 L395.8,616.5"/>
<path d="M680.4,646 L694.3,634.3"/>
<path d="M108.6,654 L117,637.8"/>
<path d="M138.6,674.3 L145,657"/>
<path d="M857.6,730.6 L853,746.9"/>
<path d="M760,798 L746,813"/>
<path d="M877.3,867.6 L858.7,882.7"/>
<path d="M821.6,845.5 L840.2,849"/>
<path d="M779.8,854.8 L777.5,875.7"/>
</g>
<g class="s">
<path d="M141.8,113 L167.7,127.3 L167.7,206.8 L174,214"/>
<path d="M218.6,163 L212.3,198.75"/>
<path d="M249,163 L237.3,156.6 L237.3,250.4 L207,234.3"/>
<path d="M494.5,312.3 L594.3,255.5" stroke-dasharray="30 3 3 3"/>
<path d="M67.9,568.2 L137,527.6 M146,522.3 L394.3,376"/>
<path d="M67.9,568.2 L89.3,582"/>
<path d="M429.3,392 L493.6,430.7"/>
<path d="M124.6,586.4 L177,558.6"/>
<path d="M124.6,586.4 L134.3,597" stroke-dasharray="4 3"/>
<path d="M356.8,577.8 L477.8,509.3"/>
<path d="M856.4,690 L782,731.8 M779,733.5 L690.4,785.2 L723,806"/>
<path d="M747.3,821 L774,836.2" stroke-dasharray="6 3"/>
<path d="M833.2,707.4 L849.5,715.5"/>
<path d="M787,607.9 L869.7,655"/>
<path d="M822.5,643 L869.7,682.5"/>
<path d="M822.5,708 L867.7,684.5"/>
<path d="M724.3,645 L739.3,651.4"/>
<path d="M737,579.6 L753,586"/>
<path d="M192,575.7 L202.9,569.3" stroke-dasharray="5 3"/>
<path d="M145,562.9 L160,573.6" stroke-dasharray="5 3"/>
<path d="M141,220.5 L160.5,233"/>
<path d="M163,312.5 L169.5,309" stroke-dasharray="3 2"/>
<path d="M79.3,332 L85.5,337.5" stroke-dasharray="3 2"/>
<path d="M191.4,252.9 L271.4,300"/>
<path d="M606,346 L606,356.7"/>
<path d="M590.4,428.4 L608,437.3" stroke-dasharray="5 3"/>
<path d="M293,389.3 L343.2,359.5"/>
</g>

</svg>
</body></html>
